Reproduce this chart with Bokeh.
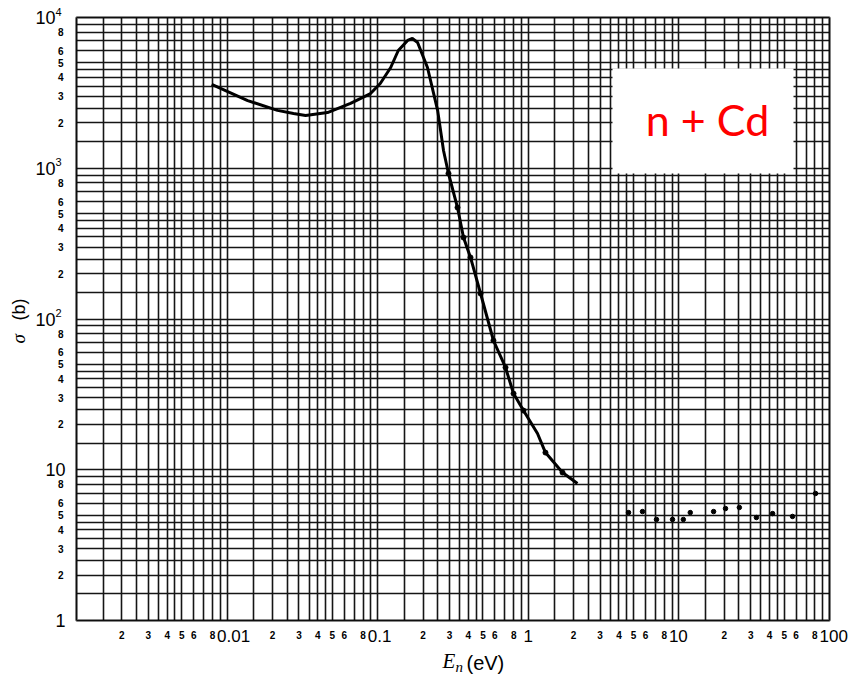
import math
from bokeh.plotting import figure
from bokeh.models import Range1d, FixedTicker, Label, BoxAnnotation, Grid
from bokeh.embed import file_html
from bokeh.resources import INLINE

# ---------------- data ----------------
curve_E = [0.0079, 0.0137, 0.0216, 0.0276, 0.0332, 0.0464, 0.066, 0.0896, 0.104,
           0.122, 0.137, 0.158, 0.170, 0.184, 0.214, 0.250, 0.2735, 0.2952, 0.3388,
           0.3714, 0.4133, 0.482, 0.587, 0.706, 0.798, 0.929, 1.151, 1.30, 1.687, 2.12]
curve_sigma = [3600, 2810, 2420, 2310, 2240, 2340, 2690, 3130, 3650,
               4660, 6040, 7040, 7260, 6830, 4660, 2420, 1312, 923, 549,
               347, 256, 147.6, 72, 47.7, 32, 24.7, 17.4, 13.0, 9.59, 8.11]

pts_E = [0.2952, 0.3388, 0.3714, 0.4133, 0.482, 0.587, 0.706, 0.798, 0.929, 1.30, 1.687]
pts_sigma = [923, 549, 347, 256, 147.6, 72, 47.7, 32, 24.7, 13.0, 9.59]

fast_E = [4.63, 5.73, 7.1, 9.07, 10.7, 11.9, 17.0, 20.4, 25.2, 32.7, 41.9, 56.8, 80.8]
fast_sigma = [5.2, 5.28, 4.68, 4.68, 4.68, 5.2, 5.28, 5.53, 5.62, 4.82, 5.12, 4.9, 6.96]

grid_mult = [1, 1.5, 2, 2.5, 3, 3.5, 4, 4.5, 5, 6, 7, 8, 9]
x_decades = [-3, -2, -1, 0, 1]
y_decades = [0, 1, 2, 3]
x_major_ticks = [0.01, 0.1, 1, 10, 100]
x_major_labels = ["0.01", "0.1", "1", "10", "100"]
minor_label_mult = [2, 3, 4, 5, 6, 8]
y_major_ticks = [1, 10, 100, 1000, 10000]
y_major_base = ["1", "10", "10", "10", "10"]
y_major_exp = ["", "", "2", "3", "4"]

# ---------------- geometry ----------------
W, H = 851, 678
L, R, T, B = 76, 22, 17, 58          # position of the graph paper inside the page
FW = W - L - R
FH = H - T - B
XMIN, XMAX = 1e-3, 1e2
YMIN, YMAX = 1.0, 1e4
ALPHA_SHIFT = 0.44                    # anchor-to-baseline distance (em) of Label text


def sx(px):
    return XMIN * (XMAX / XMIN) ** ((px - L) / FW)


def sy(py):
    return YMIN * (YMAX / YMIN) ** ((H - B - py) / FH)


def px_of(v):
    return L + FW * math.log10(v / XMIN) / math.log10(XMAX / XMIN)


def py_of(v):
    return (H - B) - FH * math.log10(v / YMIN) / math.log10(YMAX / YMIN)


def base_y(py, size):
    return sy(py - ALPHA_SHIFT * size)


p = figure(width=W, height=H, x_axis_type="log", y_axis_type="log",
           x_range=Range1d(sx(0), sx(W)), y_range=Range1d(sy(H), sy(0)),
           x_axis_location=None, y_axis_location=None,
           toolbar_location=None, output_backend="svg",
           min_border=0, min_border_left=0, min_border_right=0,
           min_border_top=0, min_border_bottom=0)
p.background_fill_color = "white"
p.border_fill_color = "white"
p.outline_line_color = None
p.grid.visible = False

xg = [m * 10 ** d for d in x_decades for m in grid_mult] + [XMAX]
yg = [m * 10 ** d for d in y_decades for m in grid_mult] + [YMAX]
gx = Grid(dimension=0, ticker=FixedTicker(ticks=xg), bounds=(XMIN, XMAX),
          cross_bounds=(YMIN, YMAX), grid_line_color="#151515", grid_line_width=1.6)
gy = Grid(dimension=1, ticker=FixedTicker(ticks=yg), bounds=(YMIN, YMAX),
          cross_bounds=(XMIN, XMAX), grid_line_color="#151515", grid_line_width=1.6)
p.add_layout(gx)
p.add_layout(gy)

# data
p.line(curve_E, curve_sigma, line_color="black", line_width=3)
p.scatter(pts_E, pts_sigma, size=5, color="black")
p.scatter(fast_E, fast_sigma, size=4.5, color="black")

# graph border
p.add_layout(BoxAnnotation(left=XMIN, right=XMAX, bottom=YMIN, top=YMAX,
                           fill_alpha=0, line_color="black", line_width=3))

# label box
p.add_layout(BoxAnnotation(left=sx(612), right=sx(793), top=sy(68), bottom=sy(173),
                           fill_color="white", fill_alpha=1.0, line_color=None))
p.add_layout(Label(x=sx(707), y=base_y(138, 43), text="n + Cd", text_align="center",
                   text_baseline="alphabetic", text_color="#ff0000",
                   text_font="Lato", text_font_size="43px"))

# x tick labels
for v, t in zip(x_major_ticks, x_major_labels):
    if len(t) > 1:
        kw = dict(x=sx(px_of(v) - 10), text_align="left")
    else:
        kw = dict(x=v, text_align="center")
    p.add_layout(Label(y=sy(629), text=t, text_baseline="top",
                       text_font="Liberation Sans", text_font_size="17px",
                       text_color="black", **kw))
for d in x_decades:
    for m in minor_label_mult:
        p.add_layout(Label(x=m * 10 ** d, y=sy(630), text=str(m), text_align="center",
                           text_baseline="top", text_font="Liberation Sans",
                           text_font_style="bold", text_font_size="10px", text_color="black"))

# y tick labels
for v, base, ex in zip(y_major_ticks, y_major_base, y_major_exp):
    if ex:
        p.add_layout(Label(x=sx(55), y=v, text=base, text_align="right", text_baseline="middle",
                           text_font="Liberation Sans", text_font_size="18px", text_color="black"))
        p.add_layout(Label(x=sx(55), y=sy(py_of(v) - 2), text=ex, text_align="left",
                           text_baseline="bottom", text_font="Liberation Sans",
                           text_font_size="11px", text_color="black"))
    else:
        p.add_layout(Label(x=sx(65), y=v, text=base, text_align="right", text_baseline="middle",
                           text_font="Liberation Sans", text_font_size="18px", text_color="black"))
for d in y_decades:
    for m in minor_label_mult:
        p.add_layout(Label(x=sx(63), y=m * 10 ** d, text=str(m), text_align="right",
                           text_baseline="middle", text_font="Liberation Sans",
                           text_font_style="bold", text_font_size="10px", text_color="black"))

# axis titles
p.add_layout(Label(x=sx(442), y=base_y(670, 21), text="E", text_align="left",
                   text_baseline="alphabetic", text_font="Liberation Serif",
                   text_font_style="italic", text_font_size="21px", text_color="black"))
p.add_layout(Label(x=sx(455), y=base_y(673, 15), text="n", text_align="left",
                   text_baseline="alphabetic", text_font="Liberation Serif",
                   text_font_style="italic", text_font_size="15px", text_color="black"))
p.add_layout(Label(x=sx(466), y=base_y(671, 20), text="(eV)", text_align="left",
                   text_baseline="alphabetic", text_font="Liberation Sans",
                   text_font_size="20px", text_color="black"))
p.add_layout(Label(x=sx(18), y=sy(343), text="σ", angle=math.pi / 2, text_align="left",
                   text_baseline="middle", text_font="Liberation Serif", text_font_style="italic",
                   text_font_size="19px", text_color="black"))
p.add_layout(Label(x=sx(18), y=sy(320), text="(b)", angle=math.pi / 2, text_align="left",
                   text_baseline="middle", text_font="Liberation Sans",
                   text_font_size="18px", text_color="black"))

open("out.html", "w").write(file_html(p, INLINE))
